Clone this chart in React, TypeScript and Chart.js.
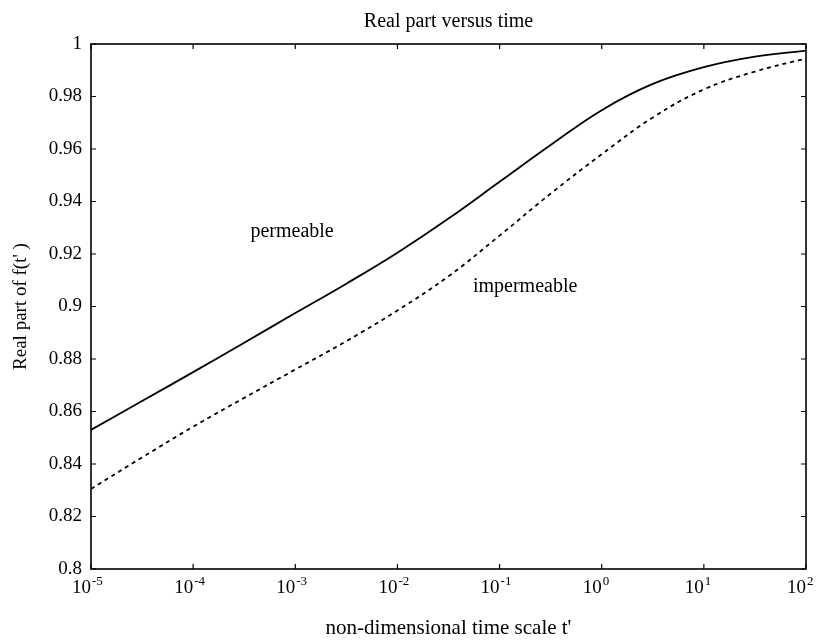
import React, { useEffect, useRef } from "react";
import { Chart, registerables } from "chart.js";

Chart.register(...registerables);

// time t' (non-dimensional), sampled every half decade from 1e-5 to 1e2
const timeExponents = [-5, -4.5, -4, -3.5, -3, -2.5, -2, -1.5, -1, -0.5, 0, 0.5, 1, 1.5, 2];
const permeable = [0.853, 0.864, 0.875, 0.8862, 0.8975, 0.9087, 0.9205, 0.9335, 0.9475, 0.9615, 0.9748, 0.9848, 0.9912, 0.9952, 0.9975];
const impermeable = [0.8305, 0.8425, 0.8542, 0.8652, 0.876, 0.8868, 0.8985, 0.9115, 0.927, 0.943, 0.958, 0.972, 0.9827, 0.9895, 0.9945];

const xTickValues = [1e-5, 1e-4, 1e-3, 1e-2, 1e-1, 1e0, 1e1, 1e2];
const xTickBase = "10";
const xTickExponents = ["-5", "-4", "-3", "-2", "-1", "0", "1", "2"];
const yTickValues = [0.8, 0.82, 0.84, 0.86, 0.88, 0.9, 0.92, 0.94, 0.96, 0.98, 1];
const yTickLabels = ["0.8", "0.82", "0.84", "0.86", "0.88", "0.9", "0.92", "0.94", "0.96", "0.98", "1"];

const curveLabels = ["permeable", "impermeable"];
const curveLabelX = [9.3e-4, 0.178];
const curveLabelY = [0.9284, 0.9074];

const titleText = "Real part versus time";
const xTitle = "non-dimensional time scale t'";
const yTitle = "Real part of f(t' )";

const FONT = "'Liberation Serif', 'Times New Roman', serif";

export default function App() {
  const ref = useRef<HTMLCanvasElement | null>(null);

  useEffect(() => {
    const canvas = ref.current;
    if (!canvas) return;

    const toPoints = (vals: number[]) =>
      timeExponents.map((e, i) => ({ x: Math.pow(10, e), y: vals[i] }));

    const framePlugin = {
      id: "frame",
      afterDraw(chart: any) {
        const { ctx, chartArea: a, scales } = chart;
        const xs = scales.x;
        const ys = scales.y;
        ctx.save();
        ctx.strokeStyle = "#000";
        ctx.lineWidth = 1.6;
        ctx.strokeRect(a.left, a.top, a.right - a.left, a.bottom - a.top);
        ctx.lineWidth = 1.2;
        const tl = 5;
        ctx.beginPath();
        xTickValues.forEach((v) => {
          const px = xs.getPixelForValue(v);
          ctx.moveTo(px, a.bottom);
          ctx.lineTo(px, a.bottom - tl);
          ctx.moveTo(px, a.top);
          ctx.lineTo(px, a.top + tl);
        });
        yTickValues.forEach((v) => {
          const py = ys.getPixelForValue(v);
          ctx.moveTo(a.left, py);
          ctx.lineTo(a.left + tl, py);
          ctx.moveTo(a.right, py);
          ctx.lineTo(a.right - tl, py);
        });
        ctx.stroke();

        ctx.fillStyle = "#000";
        // x tick labels: base "10" with raised exponent
        ctx.textBaseline = "alphabetic";
        xTickValues.forEach((v, i) => {
          const px = xs.getPixelForValue(v);
          ctx.font = `19px ${FONT}`;
          ctx.textAlign = "right";
          ctx.fillText(xTickBase, px, a.bottom + 24);
          ctx.font = `13px ${FONT}`;
          ctx.textAlign = "left";
          ctx.fillText(xTickExponents[i], px + 1, a.bottom + 16);
        });

        // curve labels
        ctx.font = `20px ${FONT}`;
        ctx.textAlign = "center";
        ctx.textBaseline = "middle";
        curveLabels.forEach((t, i) => {
          ctx.fillText(t, xs.getPixelForValue(curveLabelX[i]), ys.getPixelForValue(curveLabelY[i]));
        });
        ctx.restore();
      },
    };

    const chart = new Chart(canvas, {
      type: "line",
      data: {
        datasets: [
          {
            label: "permeable",
            data: toPoints(permeable),
            borderColor: "#000",
            borderWidth: 1.8,
            pointRadius: 0,
            tension: 0.4,
            fill: false,
          },
          {
            label: "impermeable",
            data: toPoints(impermeable),
            borderColor: "#000",
            borderWidth: 1.8,
            borderDash: [4, 4],
            pointRadius: 0,
            tension: 0.4,
            fill: false,
          },
        ],
      },
      plugins: [framePlugin],
      options: {
        responsive: false,
        animation: false,
        events: [],
        layout: { padding: { left: 0, right: 10, top: 0, bottom: 0 } },
        plugins: {
          legend: { display: false },
          tooltip: { enabled: false },
          title: {
            display: true,
            text: titleText,
            fullSize: false,
            color: "#000",
            font: { family: FONT, size: 20, weight: "normal" },
            padding: { top: 10, bottom: 10 },
          },
        },
        scales: {
          x: {
            type: "logarithmic",
            min: 1e-5,
            max: 100,
            afterBuildTicks: (s: any) => {
              s.ticks = xTickValues.map((v) => ({ value: v }));
            },
            afterFit: (s: any) => {
              s.height = 72;
              s.paddingLeft = 0;
              s.paddingRight = 0;
            },
            ticks: { display: false },
            title: {
              display: true,
              text: xTitle,
              color: "#000",
              font: { family: FONT, size: 21 },
              padding: { top: 0, bottom: 0 },
            },
            grid: { display: false, drawTicks: false },
            border: { display: false },
          },
          y: {
            type: "linear",
            min: 0.8,
            max: 1,
            afterBuildTicks: (s: any) => {
              s.ticks = yTickValues.map((v) => ({ value: v }));
            },
            afterFit: (s: any) => {
              s.width = 91;
              s.paddingTop = 0;
              s.paddingBottom = 0;
            },
            ticks: {
              autoSkip: false,
              padding: 9,
              color: "#000",
              font: { family: FONT, size: 19 },
              callback: (_v: any, i: number) => yTickLabels[i],
            },
            title: {
              display: true,
              text: yTitle,
              color: "#000",
              font: { family: FONT, size: 19 },
              padding: { top: 10, bottom: 0 },
            },
            grid: { display: false, drawTicks: false },
            border: { display: false },
          },
        },
      },
    } as any);

    return () => chart.destroy();
  }, []);

  return (
    <div style={{ position: "fixed", left: 0, top: 0, width: 816, height: 641, background: "#fff" }}>
      <canvas ref={ref} width={816} height={641} style={{ width: 816, height: 641, display: "block" }} />
    </div>
  );
}
